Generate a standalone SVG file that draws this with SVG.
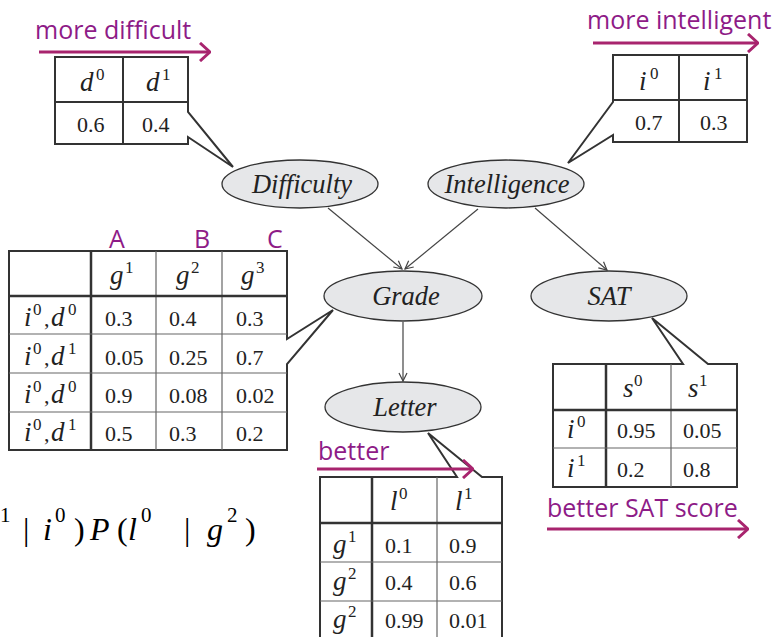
<svg xmlns="http://www.w3.org/2000/svg" width="772" height="637" viewBox="0 0 772 637">
<defs>
<marker id="ah" viewBox="0 0 10 10" refX="9" refY="5" markerWidth="10" markerHeight="10" markerUnits="userSpaceOnUse" orient="auto">
<path d="M1,1 L9,5 L1,9" fill="none" stroke="#444" stroke-width="1.2"/>
</marker>
<marker id="mh" viewBox="0 0 12 20" refX="11" refY="10" markerWidth="12" markerHeight="20" markerUnits="userSpaceOnUse" orient="auto">
<path d="M1,1 L11,10 L1,19" fill="none" stroke="#a8246e" stroke-width="3"/>
</marker>
</defs>
<style>
.tb{fill:#fff;stroke:#333;stroke-width:2}
.thk{stroke:#333;stroke-width:2.5}
.thn{stroke:#666;stroke-width:1.2}
.t{font-family:"Liberation Serif",serif;font-size:22px;fill:#222}
.v{font-family:"Liberation Serif",serif;font-style:italic;font-size:27px;fill:#222}
.s{font-family:"Liberation Serif",serif;font-size:17px;fill:#222}
.nd{fill:#e6e7e9;stroke:#333;stroke-width:1.3}
.nl{font-family:"Liberation Serif",serif;font-style:italic;font-size:26.5px;fill:#222;text-anchor:middle}
.e{stroke:#444;stroke-width:1.2;fill:none}
.m{font-family:"Open Sans",sans-serif;font-size:25px;fill:#8e1b87}
.ma{stroke:#a8246e;stroke-width:3;fill:none}
.f{font-family:"Liberation Serif",serif;font-size:32px;fill:#000}
</style>

<g id="cpd-difficulty">
<path class="tb" d="M55,57 H188 V112 L233,167 L188,137 V144 H55 Z"/>
<line x1="123" y1="57" x2="123" y2="144" stroke="#333" stroke-width="2"/>
<line x1="55" y1="102" x2="188" y2="102" stroke="#333" stroke-width="2"/>
<text class="v" x="80" y="91">d</text><text class="s" x="96" y="80">0</text>
<text class="v" x="146" y="91">d</text><text class="s" x="162" y="80">1</text>
<text class="t" x="77" y="132">0.6</text>
<text class="t" x="142" y="132">0.4</text>
</g>

<g id="cpd-intelligence">
<path class="tb" d="M613,55 H747 V142 H613 V135 L568,163 L613,102 Z"/>
<line x1="679" y1="55" x2="679" y2="142" stroke="#333" stroke-width="2"/>
<line x1="613" y1="100" x2="747" y2="100" stroke="#333" stroke-width="2"/>
<text class="v" x="639" y="90">i</text><text class="s" x="650" y="79">0</text>
<text class="v" x="703" y="90">i</text><text class="s" x="714" y="79">1</text>
<text class="t" x="635" y="130">0.7</text>
<text class="t" x="700" y="130">0.3</text>
</g>

<g id="cpd-grade">
<path class="tb" d="M9,251 H287 V339 L333,310 L287,364 V450 H9 Z"/>
<line class="thk" x1="91" y1="251" x2="91" y2="450"/>
<line class="thn" x1="156" y1="251" x2="156" y2="450"/>
<line class="thn" x1="222" y1="251" x2="222" y2="450"/>
<line class="thk" x1="9" y1="296" x2="287" y2="296"/>
<line class="thn" x1="9" y1="334" x2="287" y2="334"/>
<line class="thn" x1="9" y1="373" x2="287" y2="373"/>
<line class="thn" x1="9" y1="412" x2="287" y2="412"/>
<text class="v" x="110" y="284">g</text><text class="s" x="125" y="273">1</text>
<text class="v" x="176" y="284">g</text><text class="s" x="191" y="273">2</text>
<text class="v" x="241" y="284">g</text><text class="s" x="256" y="273">3</text>
<text class="v" x="24" y="326">i</text><text class="s" x="33" y="315">0</text><text class="t" x="44" y="326">,</text><text class="v" x="51" y="326">d</text><text class="s" x="68" y="315">0</text>
<text class="v" x="24" y="365">i</text><text class="s" x="33" y="354">0</text><text class="t" x="44" y="365">,</text><text class="v" x="51" y="365">d</text><text class="s" x="68" y="354">1</text>
<text class="v" x="24" y="403">i</text><text class="s" x="33" y="392">0</text><text class="t" x="44" y="403">,</text><text class="v" x="51" y="403">d</text><text class="s" x="68" y="392">0</text>
<text class="v" x="24" y="441">i</text><text class="s" x="33" y="430">0</text><text class="t" x="44" y="441">,</text><text class="v" x="51" y="441">d</text><text class="s" x="68" y="430">1</text>
<text class="t" x="105" y="326">0.3</text><text class="t" x="169" y="326">0.4</text><text class="t" x="236" y="326">0.3</text>
<text class="t" x="105" y="365">0.05</text><text class="t" x="169" y="365">0.25</text><text class="t" x="236" y="365">0.7</text>
<text class="t" x="105" y="403">0.9</text><text class="t" x="169" y="403">0.08</text><text class="t" x="236" y="403">0.02</text>
<text class="t" x="105" y="441">0.5</text><text class="t" x="169" y="441">0.3</text><text class="t" x="236" y="441">0.2</text>
</g>

<g id="cpd-letter">
<path class="tb" d="M320,642 V477 H457 L428,433 L482,477 H502 V642"/>
<line class="thk" x1="372" y1="477" x2="372" y2="637"/>
<line class="thn" x1="437" y1="477" x2="437" y2="637"/>
<line class="thk" x1="320" y1="523" x2="502" y2="523"/>
<line class="thn" x1="320" y1="562" x2="502" y2="562"/>
<line class="thn" x1="320" y1="601" x2="502" y2="601"/>
<text class="v" x="390" y="510">l</text><text class="s" x="399" y="499">0</text>
<text class="v" x="455" y="510">l</text><text class="s" x="464" y="499">1</text>
<text class="v" x="333" y="553">g</text><text class="s" x="348" y="542">1</text>
<text class="v" x="333" y="590">g</text><text class="s" x="348" y="579">2</text>
<text class="v" x="333" y="628">g</text><text class="s" x="348" y="617">2</text>
<text class="t" x="385" y="553">0.1</text><text class="t" x="449" y="553">0.9</text>
<text class="t" x="385" y="590">0.4</text><text class="t" x="449" y="590">0.6</text>
<text class="t" x="385" y="628">0.99</text><text class="t" x="449" y="628">0.01</text>
</g>

<g id="cpd-sat">
<path class="tb" d="M553,364 H683 L652,318 L708,364 H737 V487 H553 Z"/>
<line class="thk" x1="606" y1="364" x2="606" y2="487"/>
<line class="thn" x1="671" y1="364" x2="671" y2="487"/>
<line class="thk" x1="553" y1="410" x2="737" y2="410"/>
<line class="thn" x1="553" y1="448" x2="737" y2="448"/>
<text class="v" x="623" y="397">s</text><text class="s" x="634" y="386">0</text>
<text class="v" x="688" y="397">s</text><text class="s" x="699" y="386">1</text>
<text class="v" x="567" y="438">i</text><text class="s" x="577" y="427">0</text>
<text class="v" x="567" y="477">i</text><text class="s" x="577" y="466">1</text>
<text class="t" x="617" y="438">0.95</text><text class="t" x="683" y="438">0.05</text>
<text class="t" x="617" y="477">0.2</text><text class="t" x="683" y="477">0.8</text>
</g>

<g id="connectors">
<line class="e" x1="328" y1="208" x2="402" y2="269" marker-end="url(#ah)"/>
<line class="e" x1="478" y1="209" x2="405" y2="269" marker-end="url(#ah)"/>
<line class="e" x1="535" y1="208" x2="607" y2="270" marker-end="url(#ah)"/>
<line class="e" x1="403" y1="322" x2="403" y2="381" marker-end="url(#ah)"/>
</g>

<g id="node-difficulty"><ellipse class="nd" cx="300" cy="184" rx="78" ry="24"/><text class="nl" x="302" y="193">Difficulty</text></g>
<g id="node-intelligence"><ellipse class="nd" cx="506" cy="184" rx="78" ry="24"/><text class="nl" x="507" y="193">Intelligence</text></g>
<g id="node-grade"><ellipse class="nd" cx="403" cy="296" rx="79" ry="25"/><text class="nl" x="406" y="305">Grade</text></g>
<g id="node-sat"><ellipse class="nd" cx="609" cy="296" rx="78" ry="25"/><text class="nl" x="609" y="305">SAT</text></g>
<g id="node-letter"><ellipse class="nd" cx="403" cy="407" rx="78" ry="25"/><text class="nl" x="405" y="416">Letter</text></g>

<g id="annotations">
<text class="m" x="35" y="39">more difficult</text>
<line class="ma" x1="39" y1="52" x2="210" y2="52" marker-end="url(#mh)"/>
<text class="m" x="587" y="29" font-size="24.5">more intelligent</text>
<line class="ma" x1="593" y1="43" x2="758" y2="43" marker-end="url(#mh)"/>
<text class="m" x="109" y="248" font-size="22">A</text>
<text class="m" x="194" y="248" font-size="22">B</text>
<text class="m" x="267" y="248" font-size="22">C</text>
<text class="m" x="318" y="460">better</text>
<line class="ma" x1="317" y1="469" x2="473" y2="469" marker-end="url(#mh)"/>
<text class="m" x="547" y="517">better SAT score</text>
<line class="ma" x1="547" y1="529" x2="748" y2="529" marker-end="url(#mh)"/>
</g>

<g id="formula">
<text class="f"><tspan x="0" y="522" font-size="21">1</tspan><tspan x="23" y="540">|</tspan><tspan x="43" y="540" font-style="italic">i</tspan><tspan x="55" y="522" font-size="21">0</tspan><tspan x="74" y="540">)</tspan><tspan x="90" y="540" font-style="italic">P</tspan><tspan x="117" y="540">(</tspan><tspan x="128" y="540" font-style="italic">l</tspan><tspan x="141" y="522" font-size="21">0</tspan><tspan x="184" y="540">|</tspan><tspan x="207" y="540" font-style="italic">g</tspan><tspan x="227" y="522" font-size="21">2</tspan><tspan x="245" y="540">)</tspan></text>
</g>
</svg>
